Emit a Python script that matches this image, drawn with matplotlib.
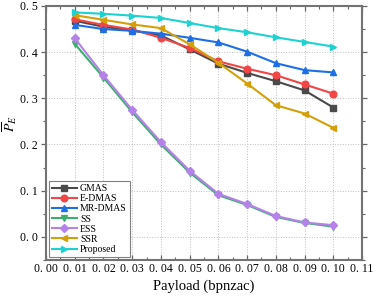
import numpy as np
import matplotlib
matplotlib.use("Agg")
import matplotlib.pyplot as plt
from matplotlib.ticker import MultipleLocator

payload = [0.01, 0.02, 0.03, 0.04, 0.05, 0.06, 0.07, 0.08, 0.09, 0.10]
gmas = [0.468, 0.455, 0.447, 0.436, 0.406, 0.375, 0.355, 0.337, 0.317, 0.280]
edmas = [0.471, 0.459, 0.449, 0.431, 0.409, 0.380, 0.364, 0.350, 0.330, 0.310]
mrdmas = [0.459, 0.450, 0.446, 0.440, 0.431, 0.421, 0.401, 0.376, 0.361, 0.356]
ss = [0.418, 0.345, 0.270, 0.200, 0.139, 0.090, 0.069, 0.043, 0.030, 0.022]
ess = [0.430, 0.350, 0.275, 0.205, 0.143, 0.093, 0.071, 0.045, 0.031, 0.025]
ssr = [0.480, 0.470, 0.460, 0.452, 0.417, 0.377, 0.332, 0.285, 0.267, 0.236]
proposed = [0.486, 0.483, 0.479, 0.474, 0.463, 0.452, 0.443, 0.432, 0.422, 0.412]

series = [
    ("GMAS", gmas, "#4a4a4a", "s"),
    ("E-DMAS", edmas, "#f24545", "o"),
    ("MR-DMAS", mrdmas, "#1e6fe6", "^"),
    ("SS", ss, "#3caf6e", "v"),
    ("ESS", ess, "#b482e8", "D"),
    ("SSR", ssr, "#d4a00a", "<"),
    ("Proposed", proposed, "#1ed2d2", ">"),
]

plt.rcParams["font.family"] = ["Liberation Serif", "DejaVu Serif"]
plt.rcParams["mathtext.fontset"] = "stix"

fig = plt.figure(figsize=(3.74, 2.98), dpi=100)
ax = fig.add_axes([0.123, 0.128, 0.845, 0.852])

for name, y, c, m in series:
    ms = 4.0 if m == "D" else 4.8
    ax.plot(payload, y, "-", color=c, marker=m, ms=ms, lw=1.5, label=name)

ax.set_xlim(0.0, 0.11)
ax.set_ylim(-0.05, 0.5)
ax.xaxis.set_minor_locator(MultipleLocator(0.005))
ax.yaxis.set_minor_locator(MultipleLocator(0.05))
ax.set_xticks(np.arange(0, 0.111, 0.01))
ax.set_xticklabels([f"{v:.2f}".replace(".", ". ") for v in np.arange(0, 0.111, 0.01)], fontsize=8.5)
ax.set_yticks(np.arange(0.0, 0.51, 0.1))
ax.set_yticklabels([f"{v:.1f}".replace(".", ". ") for v in np.arange(0.0, 0.51, 0.1)], fontsize=8.5)

ax.grid(True, which="major", ls=":", color="0.75", lw=0.7)
ax.tick_params(which="both", top=True, right=True, color="0.4")
ax.tick_params(axis="x", which="both", direction="in")
ax.tick_params(axis="y", which="both", direction="out")
ax.tick_params(which="major", length=3.5, width=0.9, pad=2.5)
ax.tick_params(which="minor", length=2, width=0.8)
for s in ax.spines.values():
    s.set_color("0.45"); s.set_linewidth(1.5)

ax.set_xlabel("Payload (bpnzac)", fontsize=10.5, labelpad=3)
ax.set_ylabel(r"$\overline{P}_{E}$", fontsize=10)
ax.yaxis.set_label_coords(-0.085, 0.535)

leg = ax.legend(loc="lower left", fontsize=7, handlelength=2.6, handletextpad=0.3,
                labelspacing=0.12, borderpad=0.3, borderaxespad=0.3, fancybox=False,
                framealpha=1, edgecolor="0.5")
leg.get_frame().set_linewidth(0.8)

fig.savefig("out.png", dpi=100)
